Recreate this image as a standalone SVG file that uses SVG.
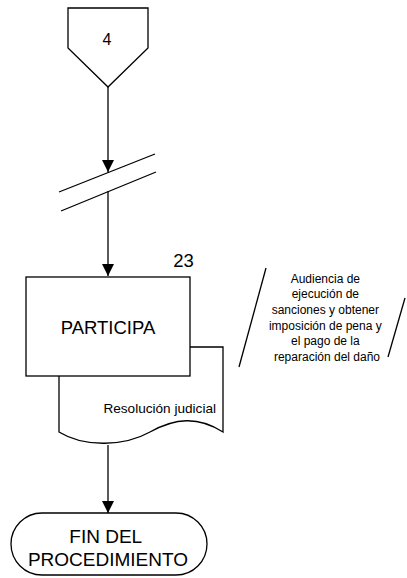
<svg xmlns="http://www.w3.org/2000/svg" width="407" height="578" viewBox="0 0 407 578">
<defs>
<style>
.s{fill:#fff;stroke:#000;stroke-width:1.3}
.l{fill:none;stroke:#000;stroke-width:1.3}
.t{font-family:"Liberation Sans",Arial,sans-serif;fill:#000}
</style>
<marker id="ah" markerWidth="12" markerHeight="12" viewBox="0 0 12 12" refX="12" refY="6" orient="auto" markerUnits="userSpaceOnUse">
<path d="M0,0 L12,6 L0,12 Z" fill="#000"/>
</marker>
</defs>
<rect width="407" height="578" fill="#fff"/>
<g id="connectors">
<line class="l" x1="108" y1="87" x2="108" y2="172" marker-end="url(#ah)"/>
<line class="l" x1="108" y1="191" x2="108" y2="276" marker-end="url(#ah)"/>
<line class="l" x1="108" y1="445" x2="108" y2="513" marker-end="url(#ah)"/>
<g id="break">
<line class="l" x1="59" y1="192" x2="155" y2="154"/>
<line class="l" x1="61" y1="211" x2="156" y2="172"/>
</g>
</g>
<g id="offpage4">
<path class="s" d="M68,8 H148 V48 L108,87 L68,48 Z"/>
<text class="t" x="107" y="45" font-size="16" text-anchor="middle">4</text>
</g>
<g id="doc">
<path class="s" d="M59,347 H223 V432 C198,416 175,418 150,432 C125,446 85,448 59,432 Z"/>
<text class="t" x="216" y="413" font-size="13.6" text-anchor="end">Resolución judicial</text>
</g>
<g id="participa">
<rect class="s" x="26" y="277" width="164" height="99"/>
<text class="t" x="108" y="334" font-size="18.5" text-anchor="middle">PARTICIPA</text>
<text class="t" x="183.5" y="267" font-size="18.5" text-anchor="middle">23</text>
</g>
<g id="annotation">
<line class="l" x1="266" y1="268" x2="239" y2="367" stroke-width="1"/>
<line class="l" x1="405" y1="298" x2="388" y2="357" stroke-width="1"/>
<text class="t" font-size="12" text-anchor="middle">
<tspan x="327" y="283">Audiencia de</tspan>
<tspan x="327" y="298">ejecución de</tspan>
<tspan x="327" y="314">sanciones y obtener</tspan>
<tspan x="327" y="330">imposición de pena y</tspan>
<tspan x="327" y="345">el pago de la</tspan>
<tspan x="327" y="361">reparación del daño</tspan>
</text>
</g>
<g id="fin">
<rect class="s" x="11" y="513" width="196" height="62" rx="31" ry="31"/>
<text class="t" font-size="19" text-anchor="middle">
<tspan x="108" y="543">FIN DEL</tspan>
<tspan x="108" y="566">PROCEDIMIENTO</tspan>
</text>
</g>
</svg>
